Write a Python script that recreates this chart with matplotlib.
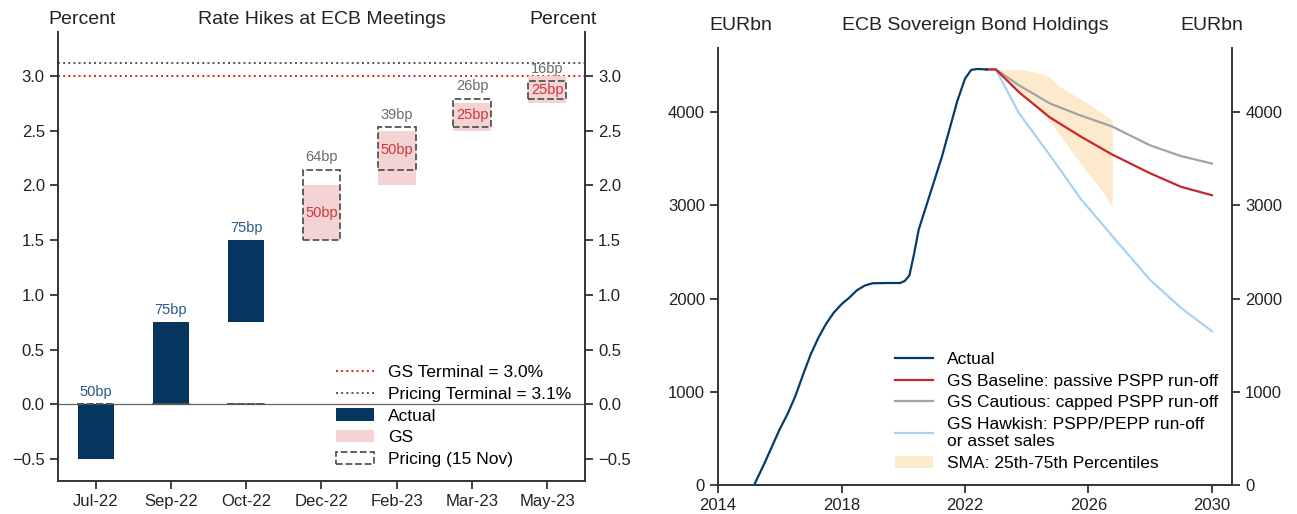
import numpy as np
import matplotlib
matplotlib.use("Agg")
import matplotlib.pyplot as plt
from matplotlib.lines import Line2D
from matplotlib.patches import Patch

plt.rcParams['font.family'] = ['Liberation Sans', 'DejaVu Sans']

NAVY = "#06355f"
NAVY_TXT = "#2a5885"
PINK = "#f4d3d5"
RED_TXT = "#d0363c"
GREY_BOX = "#555555"
GREY_TXT = "#6a6a6a"
SPINE = "#333333"
BAND = "#fde3bd"

# --- left panel data ---
meetings = ["Jul-22", "Sep-22", "Oct-22", "Dec-22", "Feb-23", "Mar-23", "May-23"]
actual_start = -0.5
actual_hike_bp = [50, 75, 75]
future_start = 1.5
gs_hike_bp = [50, 50, 25, 25]
pricing_hike_bp = [64, 39, 26, 16]
gs_terminal = 3.0
pricing_terminal = 3.12

# --- right panel data ---
actual_year = [2015.17, 2015.5, 2016.0, 2016.25, 2016.5, 2016.75, 2017.0, 2017.25,
               2017.5, 2017.75, 2018.0, 2018.25, 2018.5, 2018.75, 2019.0, 2019.5,
               2019.9, 2020.05, 2020.2, 2020.35, 2020.5, 2020.75, 2021.0, 2021.25,
               2021.5, 2021.75, 2022.0, 2022.2, 2022.4, 2022.7]
actual_hold = [0, 230, 600, 760, 950, 1180, 1400, 1580, 1730, 1850, 1940, 2010,
               2090, 2140, 2165, 2168, 2168, 2190, 2250, 2480, 2740, 3000, 3260, 3520,
               3820, 4120, 4360, 4455, 4465, 4460]
proj_year = [2022.7, 2023.0, 2023.75, 2024.75, 2025.75, 2026.75, 2028.0, 2029.0, 2030.0]
baseline = [4460, 4460, 4215, 3945, 3740, 3550, 3345, 3200, 3110]
cautious = [4460, 4460, 4290, 4095, 3965, 3850, 3645, 3530, 3450]
hawkish = [4460, 4460, 3990, 3540, 3070, 2680, 2200, 1900, 1650]
sma_year = [2023.0, 2023.5, 2024.0, 2024.5, 2024.75, 2025.0, 2025.5, 2026.0, 2026.5, 2026.77]
sma_hi = [4460, 4460, 4450, 4410, 4375, 4290, 4190, 4090, 3980, 3915]
sma_lo = [4460, 4300, 4150, 3990, 3900, 3790, 3560, 3340, 3130, 2980]

fig = plt.figure(figsize=(12.97, 5.14), dpi=100)
ax1 = fig.add_axes([0.0447, 0.0642, 0.4063, 0.8735])
ax2 = fig.add_axes([0.5536, 0.0564, 0.3963, 0.8502])


def style(ax):
    for side in ("left", "right", "bottom"):
        ax.spines[side].set_color(SPINE)
        ax.spines[side].set_linewidth(1.4)
    ax.spines["top"].set_visible(False)
    ax.tick_params(colors=SPINE, labelcolor="#222222", labelsize=12, length=6, width=1.3)


# ---------------- left: rate hikes ----------------
x = np.arange(len(meetings))
na = len(actual_hike_bp)
act_h = np.array(actual_hike_bp) / 100
act_b = actual_start + np.concatenate([[0], np.cumsum(act_h)[:-1]])
gs_h = np.array(gs_hike_bp) / 100
gs_b = future_start + np.concatenate([[0], np.cumsum(gs_h)[:-1]])
pr_h = np.array(pricing_hike_bp) / 100
pr_b = future_start + np.concatenate([[0], np.cumsum(pr_h)[:-1]])

ax1.axhline(0, color="#666666", lw=0.9, zorder=1)
ax1.axhline(pricing_terminal, color="#555555", ls=":", lw=1.4, zorder=1)
ax1.axhline(gs_terminal, color="#d62728", ls=":", lw=1.4, zorder=1)

ax1.bar(x[:na], act_h, bottom=act_b, width=0.48, color=NAVY, zorder=2)
# realised meetings: zero-height pricing boxes sit at 0
ax1.bar(x[:na], [0] * na, bottom=0, width=0.5, fill=False, edgecolor=GREY_BOX,
        ls="--", lw=1.3, zorder=2)
ax1.bar(x[na:], gs_h, bottom=gs_b, width=0.5, color=PINK, zorder=2)
ax1.bar(x[na:], pr_h, bottom=pr_b, width=0.5, fill=False, edgecolor=GREY_BOX,
        ls="--", lw=1.3, zorder=3)

for xi, b, h, bp in zip(x[:na], act_b, act_h, actual_hike_bp):
    top = max(b + h, 0)
    ax1.annotate(f"{bp}bp", (xi, top), xytext=(0, 4), textcoords="offset points",
                 ha="center", va="bottom", color=NAVY_TXT, fontsize=10.5)
for xi, gb, gh, pb, ph, g, p in zip(x[na:], gs_b, gs_h, pr_b, pr_h,
                                    gs_hike_bp, pricing_hike_bp):
    lo = max(gb, pb)
    hi = min(gb + gh, pb + ph)
    ax1.text(xi, (lo + hi) / 2, f"{g}bp", ha="center", va="center",
             color=RED_TXT, fontsize=10.5, zorder=4)
    ax1.annotate(f"{p}bp", (xi, pb + ph), xytext=(0, 4), textcoords="offset points",
                 ha="center", va="bottom", color=GREY_TXT, fontsize=10.5)

ax1.set_xlim(-0.5, len(meetings) - 0.5)
ax1.set_ylim(-0.7, 3.4)
ax1.set_xticks(x)
ax1.set_xticklabels(meetings)
yt = np.arange(-0.5, 3.01, 0.5)
ax1.set_yticks(yt)
ax1.set_yticklabels([f"{v:.1f}".replace("-", "\u2212") for v in yt])
style(ax1)
ax1.tick_params(axis="y", right=True, labelright=True)

h1 = [Line2D([], [], color="#d62728", ls=":", lw=1.4),
      Line2D([], [], color="#555555", ls=":", lw=1.4),
      Patch(facecolor=NAVY),
      Patch(facecolor=PINK),
      Patch(facecolor="none", edgecolor=GREY_BOX, ls="--", lw=1.3)]
l1 = ["GS Terminal = 3.0%", "Pricing Terminal = 3.1%", "Actual", "GS", "Pricing (15 Nov)"]
ax1.legend(h1, l1, loc="lower right", frameon=False, fontsize=12.5, handlelength=2.2,
           handletextpad=0.8, labelspacing=0.38, borderaxespad=0.4)

fig.text(0.063, 0.963, "Percent", ha="center", va="center", fontsize=14, color="#222222")
fig.text(0.248, 0.963, "Rate Hikes at ECB Meetings", ha="center", va="center",
         fontsize=14, color="#222222")
fig.text(0.434, 0.963, "Percent", ha="center", va="center", fontsize=14, color="#222222")

# ---------------- right: bond holdings ----------------
ax2.fill_between(sma_year, sma_lo, sma_hi, color=BAND, alpha=0.75, lw=0, zorder=1)
ax2.plot(proj_year, hawkish, color="#a8d2f0", lw=1.6, zorder=2)
ax2.plot(proj_year, cautious, color="#a3a3a3", lw=1.6, zorder=3)
ax2.plot(proj_year, baseline, color="#c8252c", lw=1.6, zorder=3)
ax2.plot(actual_year, actual_hold, color="#0b3a66", lw=1.6, zorder=4)

ax2.set_xlim(2014, 2030.65)
ax2.set_ylim(0, 4690)
ax2.set_xticks([2014, 2018, 2022, 2026, 2030])
ax2.set_yticks([0, 1000, 2000, 3000, 4000])
style(ax2)
ax2.tick_params(axis="y", right=True, labelright=True)

h2 = [Line2D([], [], color="#0b3a66", lw=1.6),
      Line2D([], [], color="#c8252c", lw=1.6),
      Line2D([], [], color="#a3a3a3", lw=1.6),
      Line2D([], [], color="#a8d2f0", lw=1.6),
      Patch(facecolor=BAND, alpha=0.75)]
l2 = ["Actual", "GS Baseline: passive PSPP run-off", "GS Cautious: capped PSPP run-off",
      "GS Hawkish: PSPP/PEPP run-off\nor asset sales", "SMA: 25th-75th Percentiles"]
ax2.legend(h2, l2, loc="lower right", frameon=False, fontsize=12.5, handlelength=2.2,
           handletextpad=0.8, labelspacing=0.38, borderaxespad=0.4)

fig.text(0.571, 0.951, "EURbn", ha="center", va="center", fontsize=14, color="#222222")
fig.text(0.752, 0.951, "ECB Sovereign Bond Holdings", ha="center", va="center",
         fontsize=14, color="#222222")
fig.text(0.934, 0.951, "EURbn", ha="center", va="center", fontsize=14, color="#222222")

fig.savefig("out.png", dpi=100, facecolor="white")
